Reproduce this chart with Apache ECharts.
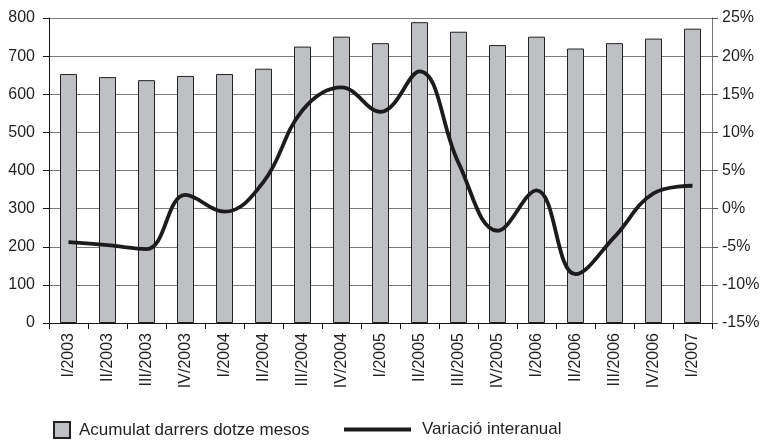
<!DOCTYPE html>
<html>
<head>
<meta charset="utf-8">
<script src="https://cdn.jsdelivr.net/npm/echarts@6/dist/echarts.min.js"></script>
<style>
  html, body { margin: 0; padding: 0; background: #fff; }
  #chart { width: 763px; height: 444px; }
</style>
</head>
<body>
<div id="chart"></div>
<script>
// Quarterly categories
var quarters = ['I/2003', 'II/2003', 'III/2003', 'IV/2003',
                'I/2004', 'II/2004', 'III/2004', 'IV/2004',
                'I/2005', 'II/2005', 'III/2005', 'IV/2005',
                'I/2006', 'II/2006', 'III/2006', 'IV/2006',
                'I/2007'];
// Accumulated total over the last twelve months (left axis)
var acumulat = [653, 645, 637, 648, 653, 667, 725, 751, 734, 789, 764, 729, 751, 720, 734, 746, 772];
// Year-on-year change, % (right axis)
var variacio = [-4.4, -4.8, -5.3, 1.8, -0.4, 3.5, 12.9, 15.9, 12.7, 18.0, 6.0, -2.9, 2.4, -8.6, -3.7, 2.0, 3.0];

var FONT = 'Arial, "Liberation Sans", Helvetica, sans-serif';
var TXT = '#231f20';

var chart = echarts.init(document.getElementById('chart'), null, { renderer: 'canvas' });
chart.setOption({
  animation: false,
  backgroundColor: '#ffffff',
  textStyle: { fontFamily: FONT, color: TXT },
  grid: { left: 49, right: 51, top: 18, bottom: 121, containLabel: false },
  legend: [
    {
      data: ['Acumulat darrers dotze mesos'],
      left: 48, top: 416,
      itemWidth: 16, itemHeight: 16, itemGap: 10,
      textStyle: { fontFamily: FONT, fontSize: 17, color: TXT, padding: [0, 0, 0, 4] },
      icon: 'rect'
    },
    {
      data: ['Variació interanual'],
      left: 339, top: 416,
      itemWidth: 67, itemHeight: 4,
      textStyle: { fontFamily: FONT, fontSize: 17, color: TXT, padding: [0, 0, 0, 6] },
      icon: 'rect'
    }
  ],
  xAxis: {
    type: 'category',
    data: quarters,
    axisLine: { show: true, lineStyle: { color: '#111', width: 1 } },
    axisTick: { show: true, alignWithLabel: false, length: 6, lineStyle: { color: '#111' } },
    axisLabel: { rotate: 90, margin: 10, fontSize: 16, color: TXT, fontFamily: FONT, interval: 0 },
    splitLine: { show: false }
  },
  yAxis: [
    {
      type: 'value', min: 0, max: 800, interval: 100,
      axisLine: { show: true, lineStyle: { color: '#111', width: 1 } },
      axisTick: { show: true, length: 6, lineStyle: { color: '#111' } },
      axisLabel: { margin: 14, fontSize: 16, color: TXT, fontFamily: FONT },
      splitLine: { show: true, lineStyle: { color: '#7a7a7a', width: 1 } }
    },
    {
      type: 'value', min: -15, max: 25, interval: 5, position: 'right',
      axisLine: { show: true, lineStyle: { color: '#777', width: 1 } },
      axisTick: { show: true, length: 6, lineStyle: { color: '#555' } },
      axisLabel: { margin: 10, fontSize: 16, color: TXT, fontFamily: FONT, formatter: '{value}%' },
      splitLine: { show: false }
    }
  ],
  series: [
    {
      name: 'Acumulat darrers dotze mesos',
      type: 'bar',
      yAxisIndex: 0,
      data: acumulat,
      barWidth: 17,
      itemStyle: { color: '#bfc0c4', borderColor: '#222', borderWidth: 1 }
    },
    {
      name: 'Variació interanual',
      type: 'line',
      yAxisIndex: 1,
      data: variacio,
      smooth: 0.4,
      showSymbol: false,
      symbol: 'none',
      lineStyle: { color: '#1c1c1c', width: 3.8 },
      itemStyle: { color: '#1c1c1c' },
      z: 5
    }
  ]
});
</script>
</body>
</html>
